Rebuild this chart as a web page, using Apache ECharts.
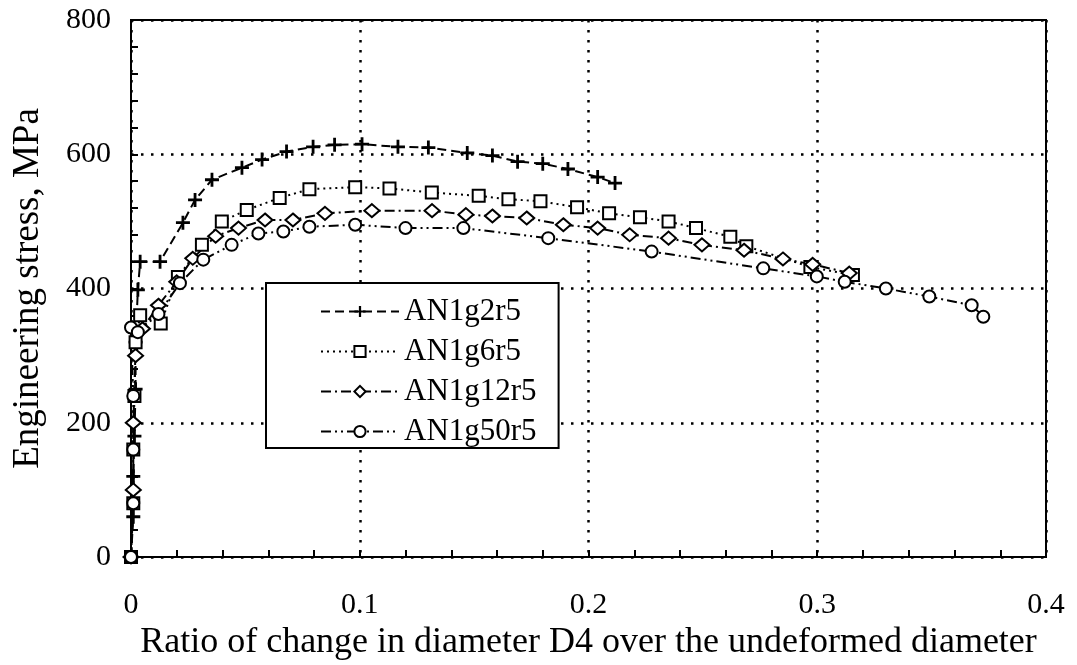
<!DOCTYPE html>
<html>
<head>
<meta charset="utf-8">
<script src="https://cdn.jsdelivr.net/npm/echarts@6/dist/echarts.min.js"></script>
<style>
html,body{margin:0;padding:0;background:#fff;}
#c{width:1077px;height:665px;}
</style>
</head>
<body>
<div id="c"></div>
<script>
const seriesNames = ['AN1g2r5', 'AN1g6r5', 'AN1g12r5', 'AN1g50r5'];
const xTicks = [0, 0.1, 0.2, 0.3, 0.4];
const yTicks = [0, 200, 400, 600, 800];

const AN1g2r5 = [[0,0],[0.001,60],[0.001,120],[0.0015,180],[0.002,250],[0.002,320],[0.003,398],[0.004,440],[0.0127,440],[0.0227,498],[0.028,532],[0.0354,562],[0.0485,580],[0.0573,592],[0.068,604],[0.0796,611],[0.089,614],[0.101,615],[0.1167,611],[0.130,610],[0.147,602],[0.158,598],[0.169,589],[0.180,586],[0.191,578],[0.204,566],[0.2116,557]];
const AN1g6r5 = [[0,0],[0.001,80],[0.001,160],[0.0015,240],[0.002,320],[0.004,360],[0.013,348],[0.0205,417],[0.031,465],[0.0397,500],[0.0506,517],[0.065,535],[0.078,548],[0.098,551],[0.113,549],[0.1315,543],[0.152,538],[0.165,533],[0.179,530],[0.195,521],[0.209,512],[0.2225,506],[0.235,500],[0.247,490],[0.262,477],[0.269,463],[0.297,432],[0.3156,420]];
const AN1g12r5 = [[0,0],[0.001,100],[0.001,200],[0.002,300],[0.005,340],[0.012,375],[0.02,410],[0.027,445],[0.037,478],[0.047,490],[0.0586,502],[0.0708,502],[0.0848,512],[0.1053,516],[0.1316,516],[0.1464,510],[0.158,508],[0.173,505],[0.189,495],[0.204,490],[0.218,480],[0.235,475],[0.2496,465],[0.268,457],[0.285,444],[0.298,436],[0.314,423]];
const AN1g50r5 = [[0,0],[0.001,80],[0.001,160],[0.001,240],[0,342],[0.003,335],[0.012,362],[0.0214,408],[0.0316,443],[0.044,465],[0.0557,482],[0.0666,485],[0.078,492],[0.098,495],[0.12,490],[0.1453,490],[0.1824,475],[0.2276,455],[0.2764,430],[0.2998,418],[0.312,410],[0.330,400],[0.349,388],[0.3675,375],[0.3726,358]];

const FONT = "'Liberation Serif', 'DejaVu Serif', serif";
const plusPath = 'path://M4,0H6V4H10V6H6V10H4V6H0V4H4Z';

function mk(name, data, symbol, size, dash) {
  return {
    name: name,
    type: 'line',
    data: data,
    symbol: symbol,
    symbolSize: size,
    showSymbol: true,
    animation: false,
    lineStyle: {color: '#000', width: 2, type: dash},
    itemStyle: {color: symbol === plusPath ? '#000' : '#fff', borderColor: '#000', borderWidth: symbol === plusPath ? 0 : 2}
  };
}

const chart = echarts.init(document.getElementById('c'));
chart.setOption({
  backgroundColor: '#fff',
  animation: false,
  grid: {left: 131, right: 31, top: 20, bottom: 108, show: true, borderColor: '#000', borderWidth: 2, backgroundColor: 'transparent', outerBoundsMode: 'none', containLabel: false},
  xAxis: {
    type: 'value', min: xTicks[0], max: xTicks[xTicks.length - 1], interval: 0.1,
    name: 'Ratio of change in diameter D4 over the undeformed diameter',
    nameLocation: 'middle', nameGap: 64,
    nameTextStyle: {fontFamily: FONT, fontSize: 36, color: '#000'},
    axisLine: {lineStyle: {color: '#000', width: 2}},
    axisTick: {show: true, inside: true, length: 7, lineStyle: {color: '#000', width: 2}},
    minorTick: {show: true, splitNumber: 5, length: 7, lineStyle: {color: '#000', width: 2}},
    axisLabel: {fontFamily: FONT, fontSize: 30, color: '#000', margin: 33},
    splitLine: {show: true, lineStyle: {color: '#000', width: 2.5, type: [2.5, 7.5]}}
  },
  yAxis: {
    type: 'value', min: yTicks[0], max: yTicks[yTicks.length - 1], interval: 200,
    name: 'Engineering stress, MPa',
    nameLocation: 'middle', nameGap: 84,
    nameTextStyle: {fontFamily: FONT, fontSize: 37, color: '#000'},
    axisLine: {lineStyle: {color: '#000', width: 2}},
    axisTick: {show: true, inside: true, length: 7, lineStyle: {color: '#000', width: 2}},
    minorTick: {show: true, splitNumber: 5, length: 7, lineStyle: {color: '#000', width: 2}},
    axisLabel: {fontFamily: FONT, fontSize: 30, color: '#000', margin: 20},
    splitLine: {show: true, lineStyle: {color: '#000', width: 2.5, type: [2.5, 7.5]}}
  },
  legend: {
    data: seriesNames,
    orient: 'vertical',
    left: 266, top: 283,
    padding: [13, 22, 1, 54],
    itemGap: 9,
    itemWidth: 78, itemHeight: 14,
    backgroundColor: '#fff',
    borderColor: '#000', borderWidth: 2,
    textStyle: {fontFamily: FONT, fontSize: 31, lineHeight: 29, color: '#000'},
    z: 10
  },
  series: [
    mk(seriesNames[0], AN1g2r5, plusPath, 14, [9, 5]),
    mk(seriesNames[1], AN1g6r5, 'rect', 12, [2, 4]),
    mk(seriesNames[2], AN1g12r5, 'diamond', [15, 13], [10, 4, 2, 4]),
    mk(seriesNames[3], AN1g50r5, 'circle', 12, [10, 4, 2, 4, 2, 4])
  ]
});
</script>
</body>
</html>
